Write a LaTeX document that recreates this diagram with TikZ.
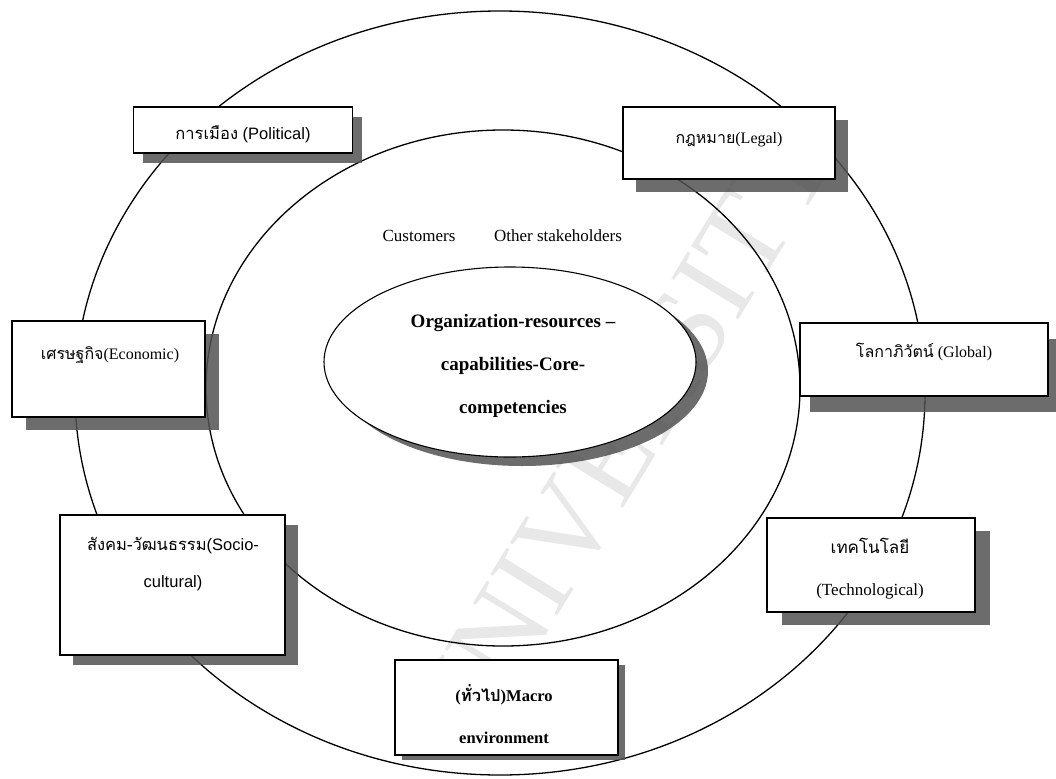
\documentclass[tikz,border=0pt]{standalone}
\usepackage{fontspec}
\setmainfont{Liberation Serif}
\setsansfont{Liberation Sans}
\newfontfamily\thaifont[Script=Thai]{Loma}
\usetikzlibrary{shapes.geometric,shadows}

\tikzset{
  ring/.style={ellipse, draw, line width=1.3pt, inner sep=0pt},
  envbox/.style={rectangle, draw, fill=white, line width=1.6pt, inner sep=0pt},
  boxshadow/.style 2 args={drop shadow={shadow xshift=#1pt, shadow yshift=-#2pt,
      fill=black!68, opacity=0.85}},
  lbl/.style={inner sep=0pt, align=center, font=\fontsize{16}{37}\selectfont},
  stake/.style={inner sep=0pt, font=\fontsize{17}{20}\selectfont},
  wmark/.style={inner sep=0pt, text=black!9, font=\fontsize{120}{120}\selectfont}
}

\begin{document}
\begin{tikzpicture}[x=1pt, y=-1pt]
  \useasboundingbox (0,0) rectangle (1056,778);

  % faint watermark lettering
  \node[wmark, rotate=58.5] (wm) at (620,440) {UNIVERSITY};

  % environment rings
  \node[ring, minimum width=850pt, minimum height=764pt] (outer) at (500,393) {};
  \node[ring, minimum width=594pt, minimum height=516pt] (inner) at (503,388) {};

  % stakeholder words between the rings and the core
  \node[stake] (cust) at (419,236) {Customers};
  \node[stake] (oth) at (558,236) {Other stakeholders};

  % organisation core
  \node[ring, line width=1.1pt, fill=white, minimum width=372pt, minimum height=190pt,
        drop shadow={shadow xshift=12pt, shadow yshift=-9pt, fill=black!68, opacity=0.85}]
        (core) at (510,362) {};
  \node[lbl, font=\bfseries\fontsize{19}{43}\selectfont] (coret) at (513,366)
        {Organization-resources --\\capabilities-Core-\\competencies};

  % macro-environment factor boxes
  \node[envbox, boxshadow={9}{10}, minimum width=219pt, minimum height=46pt] (pol) at (243,130) {};
  \node[lbl, font=\sffamily\fontsize{16.5}{37}\selectfont] (polt) at (243,134) {{\thaifont การเมือง} (Political)};

  \node[envbox, boxshadow={13}{13}, minimum width=212pt, minimum height=72pt] (leg) at (729,143) {};
  \node[lbl] (legt) at (729,140) {{\thaifont กฎหมาย}(Legal)};

  \node[envbox, boxshadow={14}{13}, minimum width=193pt, minimum height=96pt] (eco) at (108.5,369) {};
  \node[lbl] (ecot) at (110,355) {{\thaifont เศรษฐกิจ}(Economic)};

  \node[envbox, boxshadow={10}{16}, minimum width=248pt, minimum height=73pt] (glo) at (924,359.5) {};
  \node[lbl] (glot) at (924,352) {{\thaifont โลกาภิวัตน์} (Global)};

  \node[envbox, boxshadow={13}{10}, minimum width=225pt, minimum height=140pt] (soc) at (172.5,585) {};
  \node[lbl, font=\sffamily\fontsize{16.5}{37}\selectfont] (soct) at (173,564) {{\thaifont สังคม-วัฒนธรรม}(Socio-\\cultural)};

  \node[envbox, boxshadow={15}{13}, minimum width=208pt, minimum height=94pt] (tec) at (871,565) {};
  \node[lbl, font=\fontsize{17}{42}\selectfont] (tect) at (870,569) {{\thaifont เทคโนโลยี}\\(Technological)};

  \node[envbox, boxshadow={7}{5}, minimum width=223pt, minimum height=95pt] (mac) at (506.5,707.5) {};
  \node[lbl, font=\bfseries\fontsize{16.5}{42}\selectfont] (mact) at (504,714) {({\thaifont ทั่วไป})Macro\\environment};
\end{tikzpicture}
\end{document}
